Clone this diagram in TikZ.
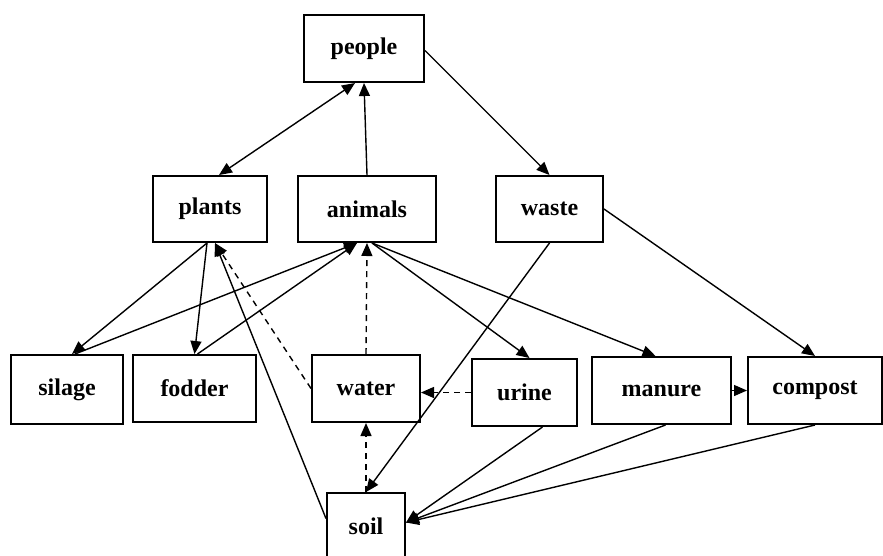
\documentclass[tikz,border=0pt]{standalone}
\usepackage{fontspec}
\setmainfont{Liberation Serif}
\usetikzlibrary{arrows.meta}
\begin{document}
\begin{tikzpicture}[x=1pt,y=-1pt,
  box/.style={draw,line width=2pt,rectangle,inner sep=0pt,font=\fontsize{24}{28}\selectfont\bfseries},
  con/.style={line width=1.4pt,-{Triangle[length=13pt,width=11pt]}},
  bicon/.style={line width=1.4pt,{Triangle[length=13pt,width=11pt]}-{Triangle[length=13pt,width=11pt]}},
  dcon/.style={con,dash pattern=on 6pt off 5pt}]
\useasboundingbox (0,0) rectangle (883,555);
\node[box,minimum width=120pt,minimum height=67pt] (people) at (364,48.5) {people};
\node[box,minimum width=114pt,minimum height=66pt] (plants) at (210,209) {plants};
\node[box,minimum width=138pt,minimum height=66pt] (animals) at (367,209) {animals};
\node[box,minimum width=107pt,minimum height=66pt] (waste) at (549.5,209) {waste};
\node[box,minimum width=112pt,minimum height=69pt] (silage) at (67,389.5) {silage};
\node[box,minimum width=123pt,minimum height=67pt] (fodder) at (194.5,388.5) {fodder};
\node[box,minimum width=108pt,minimum height=67pt] (water) at (366,388.5) {water};
\node[box,minimum width=105pt,minimum height=67pt] (urine) at (524.5,392.5) {urine};
\node[box,minimum width=139pt,minimum height=67pt] (manure) at (661.5,390.5) {manure};
\node[box,minimum width=134pt,minimum height=67pt] (compost) at (815,390.5) {compost};
\node[box,minimum width=78pt,minimum height=67pt] (soil) at (366,526.5) {soil};
% top level
\draw[bicon] ([xshift=9pt]plants.north) -- ([xshift=-9pt]people.south);
\draw[con] (animals.north) -- (people.south);
\draw[con] ([yshift=-2pt]people.east) -- (waste.north);
% plants
\draw[con] ([xshift=-3pt]plants.south) -- ([xshift=5pt]silage.north);
\draw[con] ([xshift=-3pt]plants.south) -- (fodder.north);
\draw[con] ([yshift=8pt]soil.west) -- ([xshift=5pt]plants.south);
\draw[dcon] (water.west) -- ([xshift=5pt]plants.south);
% animals
\draw[con] ([xshift=8pt]silage.north) -- ([xshift=-10pt]animals.south);
\draw[con] ([xshift=3pt]fodder.north) -- ([xshift=-10pt]animals.south);
\draw[dcon] (water.north) -- (animals.south);
\draw[con] ([xshift=5pt]animals.south) -- ([xshift=5pt]urine.north);
\draw[con] ([xshift=5pt]animals.south) -- ([xshift=-6pt]manure.north);
% waste
\draw[con] (waste.east) -- (compost.north);
\draw[con] (waste.south) -- (soil.north);
% lower row
\draw[dcon] (urine.west) -- (urine.west -| water.east);
\draw[con] (manure.east) -- (compost.west);
\draw[dcon] (soil.north) -- (water.south);
\draw[con] ([xshift=18pt]urine.south) -- ([yshift=4pt]soil.east);
\draw[con] ([xshift=4pt]manure.south) -- ([yshift=4pt]soil.east);
\draw[con] (compost.south) -- ([yshift=4pt]soil.east);
\end{tikzpicture}
\end{document}
